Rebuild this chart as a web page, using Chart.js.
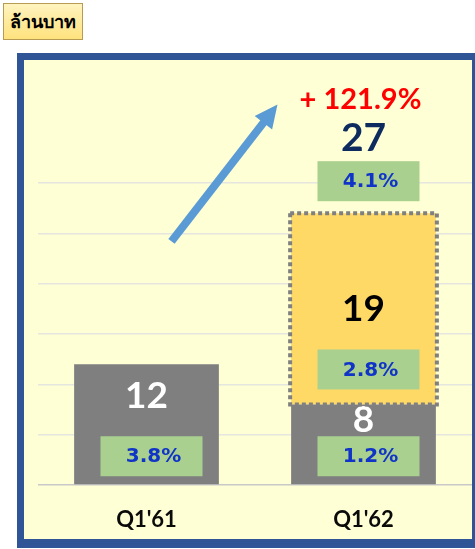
<!DOCTYPE html>
<html lang="th">
<head>
<meta charset="UTF-8">
<title>ล้านบาท Q1'61 vs Q1'62</title>
<script src="https://cdn.jsdelivr.net/npm/chart.js"></script>
<style>
  html, body { margin: 0; padding: 0; background: #fff; overflow: hidden; }
  #page { position: relative; width: 475px; height: 549px; overflow: hidden; }
  #unit {
    position: absolute; left: 3px; top: 3px; width: 80px; height: 37px;
    border: 1px solid #b89b52; box-sizing: border-box;
    background: linear-gradient(#fff4bf, #ffe27e);
    font: bold 18px "Noto Sans", "DejaVu Sans", sans-serif; color: #000;
    text-align: center; line-height: 35px;
  }
  #frame {
    position: absolute; left: 17px; top: 53px; width: 462px; height: 495px;
    box-sizing: border-box; border: 7px solid #2f5597; border-bottom-width: 9px;
    background: #ffffd5;
  }
  #chart { position: absolute; left: 0; top: 0; }
</style>
</head>
<body>
<div id="page">
  <div id="unit">ล้านบาท</div>
  <div id="frame"></div>
  <canvas id="chart" width="475" height="549"></canvas>
</div>
<script>
// data
const categories = ["Q1'61", "Q1'62"];
const baseValues = [12, 8];
const newValues = [null, 19];
const baseShares = ['3.8%', '1.2%'];
const newShares = [null, '2.8%'];
const totalValues = [null, 27];
const totalShares = [null, '4.1%'];
const growthLabels = [null, '+ 121.9%'];
const yMax = 30;
const yStep = 5;

const GREEN = '#a9d08e';
const PCT_BLUE = '#1034c8';

function greenBox(ctx, cx, top, text) {
  ctx.fillStyle = GREEN;
  ctx.fillRect(cx - 46, top, 102, 40);
  ctx.fillStyle = PCT_BLUE;
  ctx.font = 'bold 20px "DejaVu Sans", sans-serif';
  ctx.textAlign = 'center';
  ctx.textBaseline = 'middle';
  ctx.fillText(text, cx + 7, top + 21);
}

function bigText(ctx, text, x, y, color, size) {
  ctx.fillStyle = color;
  ctx.font = 'bold ' + size + 'px Lato, sans-serif';
  ctx.textAlign = 'center';
  ctx.textBaseline = 'middle';
  ctx.fillText(text, x, y);
}

const labelsPlugin = {
  id: 'labels',
  afterDatasetsDraw(chart) {
    const ctx = chart.ctx;
    const baseMeta = chart.getDatasetMeta(0);
    const newMeta = chart.getDatasetMeta(1);
    ctx.save();
    categories.forEach((c, i) => {
      const b = baseMeta.data[i];
      const boxTop = b.base - 48;
      greenBox(ctx, b.x, boxTop, baseShares[i]);
      bigText(ctx, String(baseValues[i]), b.x, Math.max(boxTop - 40, b.y + 16), '#fff', 37);

      if (newValues[i] != null) {
        const n = newMeta.data[i];
        const left = n.x - n.width / 2, right = n.x + n.width / 2;
        // dotted outline
        ctx.strokeStyle = '#808080';
        ctx.lineWidth = 4;
        ctx.setLineDash([4, 3]);
        ctx.strokeRect(left - 1, n.y, right - left + 2, n.base - n.y);
        ctx.setLineDash([]);
        const nTop = n.base - 55;
        greenBox(ctx, n.x, nTop, newShares[i]);
        bigText(ctx, String(newValues[i]), n.x, nTop - 40, '#000', 37);
      }
      if (totalValues[i] != null) {
        const top = newValues[i] != null ? newMeta.data[i].y : b.y;
        greenBox(ctx, b.x, top - 52, totalShares[i]);
        bigText(ctx, String(totalValues[i]), b.x, top - 75, '#0d2b5e', 39);
        bigText(ctx, growthLabels[i], b.x - 3, top - 114, '#ff0000', 29);
      }
    });

    // growth arrow between the two bars
    const b0 = baseMeta.data[0], b1 = baseMeta.data[1];
    const sx = b0.x + 25, sy = chart.scales.y.getPixelForValue(24.2);
    const tx = b1.x - 86, ty = chart.scales.y.getPixelForValue(37.8);
    const dx = tx - sx, dy = ty - sy, len = Math.hypot(dx, dy);
    const ux = dx / len, uy = dy / len;
    const hx = tx - ux * 23, hy = ty - uy * 23;
    ctx.strokeStyle = '#5b9bd5';
    ctx.fillStyle = '#5b9bd5';
    ctx.lineWidth = 8;
    ctx.beginPath();
    ctx.moveTo(sx, sy);
    ctx.lineTo(hx + ux * 2, hy + uy * 2);
    ctx.stroke();
    ctx.beginPath();
    ctx.moveTo(tx, ty);
    ctx.lineTo(hx - uy * 11, hy + ux * 11);
    ctx.lineTo(hx + uy * 11, hy - ux * 11);
    ctx.closePath();
    ctx.fill();
    ctx.restore();
  }
};

new Chart(document.getElementById('chart'), {
  type: 'bar',
  data: {
    labels: categories,
    datasets: [
      { data: baseValues, backgroundColor: '#7f7f7f' },
      { data: newValues, backgroundColor: '#ffd966' }
    ]
  },
  options: {
    responsive: false,
    animation: false,
    devicePixelRatio: 1,
    layout: { padding: { left: 38, right: 3, top: 183, bottom: 0 } },
    categoryPercentage: 0.667,
    barPercentage: 1,
    plugins: { legend: { display: false }, tooltip: { enabled: false } },
    scales: {
      x: {
        stacked: true,
        grid: { display: false, drawTicks: false },
        border: { display: false },
        ticks: { color: '#0a0a0a', padding: 22, font: { family: 'Lato', weight: 'bold', size: 22 } },
        afterFit(scale) { scale.height = 64; }
      },
      y: {
        stacked: true,
        min: 0,
        max: yMax,
        ticks: { display: false, stepSize: yStep },
        grid: {
          drawTicks: false,
          color: ctx => ctx.tick && ctx.tick.value === 0 ? '#c8c8c8' : '#e6e6e0',
          lineWidth: 1.5
        },
        border: { display: false },
        afterFit(scale) { scale.width = 0; }
      }
    }
  },
  plugins: [labelsPlugin]
});
</script>
</body>
</html>
